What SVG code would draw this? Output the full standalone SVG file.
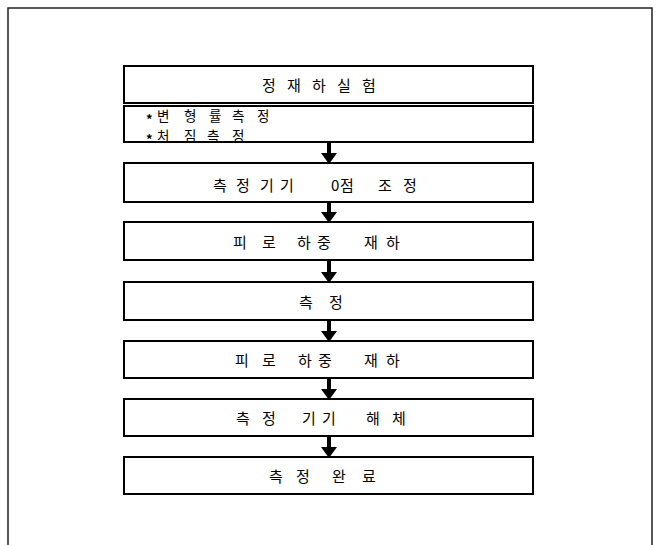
<svg xmlns="http://www.w3.org/2000/svg" width="658" height="545" viewBox="0 0 658 545">
<style>
.box{fill:#fff;stroke:#000;stroke-width:2}
.t{font-family:"Noto Sans CJK KR","Noto Sans",sans-serif;font-size:15px;fill:#000;dominant-baseline:central}
.sub{font-size:13.5px}
.star{font-size:13px;font-weight:bold}
.conn{stroke:#000;stroke-width:4;fill:none}
.frame{fill:none;stroke:#222;stroke-width:1.5}
</style>
<defs>
<marker id="ah" markerUnits="userSpaceOnUse" markerWidth="12" markerHeight="16" refX="0" refY="8" orient="auto" viewBox="0 0 12 16">
<path d="M0,0 L11,8 L0,16 Z" fill="#000"/>
</marker>
</defs>
<path class="frame" d="M8,545 V8 H652 V545"/>
<g id="n1"><rect class="box" x="124" y="66" width="409" height="37"/>
<text class="t" x="262 275 287 300 312 325 337 350 362" y="84">정 재 하 실 험</text></g>
<g id="n2"><rect class="box" x="124" y="106" width="409" height="36"/>
<text class="t sub"><tspan class="star" x="146" y="117.5">*</tspan><tspan x="157 170 184 197 209 221 232 245 257" y="114.5">변 형 률 측 정</tspan><tspan class="star" x="146" y="137.5">*</tspan><tspan x="157 170 184 196 207 220 232" y="134.5">처 짐 측 정</tspan></text></g>
<g id="n3"><rect class="box" x="124" y="163" width="409" height="39"/>
<text class="t" x="213 226 236 250 260 272 280 300 331 340 360 378 392 403" y="184">측 정 기 기 0점 조 정</text></g>
<g id="n4"><rect class="box" x="124" y="222" width="409" height="38"/>
<text class="t" x="233 248 262 280 297 310 317 340 364 376 386" y="241">피 로 하 중 재 하</text></g>
<g id="n5"><rect class="box" x="124" y="282" width="409" height="38"/>
<text class="t" x="299 315 329" y="301">측 정</text></g>
<g id="n6"><rect class="box" x="124" y="341" width="409" height="37"/>
<text class="t" x="235 250 262 280 298 310 318 340 364 376 386" y="359">피 로 하 중 재 하</text></g>
<g id="n7"><rect class="box" x="124" y="399" width="409" height="37"/>
<text class="t" x="236 250 262 280 302 315 322 345 366 380 392" y="417">측 정 기 기 해 체</text></g>
<g id="n8"><rect class="box" x="124" y="457" width="409" height="37"/>
<text class="t" x="269 284 296 315 332 350 362" y="475">측 정 완 료</text></g>
<g id="connectors">
<line class="conn" x1="329" y1="143" x2="329" y2="153" marker-end="url(#ah)"/>
<line class="conn" x1="329" y1="203" x2="329" y2="212" marker-end="url(#ah)"/>
<line class="conn" x1="329" y1="261" x2="329" y2="272" marker-end="url(#ah)"/>
<line class="conn" x1="329" y1="321" x2="329" y2="331" marker-end="url(#ah)"/>
<line class="conn" x1="329" y1="379" x2="329" y2="389" marker-end="url(#ah)"/>
<line class="conn" x1="329" y1="437" x2="329" y2="447" marker-end="url(#ah)"/>
</g>
</svg>
